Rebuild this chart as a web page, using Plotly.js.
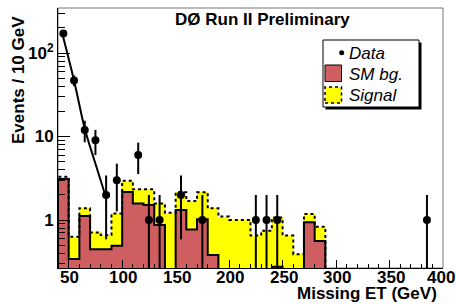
<!DOCTYPE html>
<html>
<head>
<meta charset="utf-8">
<script src="https://cdn.plot.ly/plotly-3.0.1.min.js"></script>
<style>html,body{margin:0;padding:0;background:#fff;}#chart{width:456px;height:304px;}</style>
</head>
<body>
<div id="chart"></div>
<script>
// ---- data ----
var binCenters = [45,55,65,75,85,95,105,115,125,135,145,155,165,175,185,195,205,215,225,235,245,255,265,275,285];
var binEdges   = [40,50,60,70,80,90,100,110,120,130,140,150,160,170,180,190,200,210,220,230,240,250,260,270,280,290];
var smBg       = [3.1,0.34,1.12,0.445,0.445,0.49,2.16,1.58,1.51,0.87,0,1.32,0.77,1.02,0.38,0,0,0,0,0,0.276,0,0,0.94,0.56];
var signal     = [0.2,0.29,0.26,0.265,0.215,0.71,0.8,0.75,0.82,0.71,1.22,0.83,0.92,1.13,1.0,1.1,1.0,1.0,0.65,0.745,0.794,0.65,0.39,0.24,0.27];
var dataX      = [45,55,65,75,85,95,115,125,135,155,175,225,235,245,385];
var dataY      = [172,47,12,9,2,3,6,1,1,2,1,1,1,1,1];
var fitX       = [44,55,65,74,85];
var fitY       = [172,47,12.5,5.2,1.85];
var xTickVals  = [50,100,150,200,250,300,350,400];
var xTickText  = ['50','100','150','200','250','300','350','400'];
var yTickVals  = [1,10,100];
var yTickText  = ['1','10','10<sup>2</sup>'];
var legendLabels = ['Data','SM bg.','Signal'];
var titleText  = 'DØ Run II Preliminary';
var xTitle     = 'Missing ET (GeV)';
var yTitle     = 'Events / 10 GeV';

// ---- derived ----
var total = smBg.map(function(b,i){ return b + signal[i]; });
var FLOOR = 1e-3;
function stepLine(vals){
  var xs = [binEdges[0]], ys = [FLOOR];
  for (var i=0;i<vals.length;i++){ xs.push(binEdges[i]); ys.push(vals[i] > 0 ? vals[i] : FLOOR); }
  var last = vals[vals.length-1] > 0 ? vals[vals.length-1] : FLOOR;
  xs.push(binEdges[binEdges.length-1]); ys.push(last);
  xs.push(binEdges[binEdges.length-1]); ys.push(FLOOR);
  return {x:xs, y:ys};
}
var minorX = []; for (var v=40; v<=400; v+=10) minorX.push(v);
var minorY = [];
[0.1,1,10,100].forEach(function(d){ for (var k=2;k<=9;k++) minorY.push(k*d); });

var RED = '#cf5e61', YEL = '#ffff00';
var FONT = 'Liberation Sans, Arial, Helvetica, sans-serif';

var totLine = stepLine(total), bgLine = stepLine(smBg);
var traces = [
  {type:'bar', x:binCenters, y:total, width:10, marker:{color:YEL, line:{width:0}}, showlegend:false, hoverinfo:'skip'},
  {type:'bar', x:binCenters, y:smBg, width:10, marker:{color:RED, line:{width:0}}, showlegend:false, hoverinfo:'skip'},
  {type:'scatter', mode:'lines', x:totLine.x, y:totLine.y, line:{shape:'hv', color:'#000', width:2, dash:'dot'}, showlegend:false, hoverinfo:'skip'},
  {type:'scatter', mode:'lines', x:bgLine.x, y:bgLine.y, line:{shape:'hv', color:'#000', width:2}, showlegend:false, hoverinfo:'skip'},
  {type:'scatter', mode:'lines', x:fitX, y:fitY, line:{shape:'spline', smoothing:1, color:'#000', width:2}, showlegend:false, hoverinfo:'skip'},
  {type:'scatter', mode:'markers', x:dataX, y:dataY, marker:{color:'#000', size:8},
   error_y:{type:'data', array:dataY.map(function(n){return Math.sqrt(n);}), visible:true, color:'#000', thickness:2, width:0},
   showlegend:false}
];

var L=58, R=13, T=8, B=36, W=456, H=304;
var pw = W-L-R, ph = H-T-B;
function px(x){ return (x-L)/pw; }
function py(y){ return (H-B-y)/ph; }
function rect(x0,y0,x1,y1,fill,line,dash,lw){
  return {type:'rect', xref:'paper', yref:'paper', x0:px(x0), x1:px(x1), y0:py(y1), y1:py(y0),
          fillcolor:fill, line:{color:line||'rgba(0,0,0,0)', width:lw===undefined?1:lw, dash:dash||'solid'}, layer:'above'};
}
var shapes = [
  {type:'rect', xref:'paper', yref:'paper', x0:0, x1:1, y0:0, y1:1, line:{color:'#777', width:1}, layer:'below'},
  rect(325.5,42.5,421.5,109.5,'#000',null,null,0),
  rect(323,40,419,107,'#fff','#000'),
  {type:'circle', xref:'paper', yref:'paper', x0:px(339.2), x1:px(344.2), y0:py(55.2), y1:py(50.2), fillcolor:'#000', line:{width:0}, layer:'above'},
  rect(325,65,341.5,81.5,RED,'#000'),
  rect(325,87,341.5,103,YEL,'#000','dot',1.5)
];
function ann(text,x,y,opts){
  var a = {text:text, xref:'paper', yref:'paper', x:px(x), y:py(y), showarrow:false, xanchor:'left', yanchor:'middle',
           font:{family:FONT, size:17, color:'#000'}};
  for (var k in opts) a[k]=opts[k];
  return a;
}
var annotations = [
  ann(legendLabels[0],347,53,{font:{family:FONT,size:17,color:'#000',style:'italic'}}),
  ann(legendLabels[1],347,74,{font:{family:FONT,size:17,color:'#000',style:'italic'}}),
  ann(legendLabels[2],347,95,{font:{family:FONT,size:17,color:'#000',style:'italic'}}),
  ann(titleText,262,20,{xanchor:'center',font:{family:FONT,size:17,color:'#000',weight:'bold'}}),
  ann(xTitle,438,304,{xanchor:'right',yanchor:'bottom',borderpad:0,font:{family:FONT,size:17,color:'#000',weight:'bold'}}),
  ann(yTitle,18,80,{xanchor:'center',textangle:-90,font:{family:FONT,size:17,color:'#000',weight:'bold'}})
];
// x tick labels placed through the x axis scale
xTickVals.forEach(function(v,i){
  annotations.push({text:xTickText[i], xref:'x', x:v, yref:'paper', y:py(277.5), showarrow:false,
    xanchor:'center', yanchor:'middle', borderpad:0, xshift:(i===xTickVals.length-1?-2:1),
    font:{family:FONT, size:17, color:'#000', weight:'bold'}});
});

var layout = {
  width:W, height:H, margin:{l:L,r:R,t:T,b:B,pad:0},
  paper_bgcolor:'#fff', plot_bgcolor:'#fff',
  barmode:'overlay', bargap:0, showlegend:false,
  font:{family:FONT, color:'#000'},
  xaxis:{range:[40,400], tickmode:'array', tickvals:xTickVals, ticks:'inside', ticklen:8, tickwidth:1, tickcolor:'#000',
         showticklabels:false,
         minor:{tickmode:'array', tickvals:minorX, ticks:'inside', ticklen:4, tickwidth:1, tickcolor:'#000', showgrid:false},
         showline:true, linecolor:'#000', linewidth:1, showgrid:false, zeroline:false},
  yaxis:{type:'log', range:[-0.575,2.54], tickmode:'array', tickvals:yTickVals, ticktext:yTickText, ticks:'inside', ticklen:12, tickwidth:1, tickcolor:'#000',
         minor:{tickmode:'array', tickvals:minorY, ticks:'inside', ticklen:7, tickwidth:1, tickcolor:'#000', showgrid:false},
         showline:true, linecolor:'#000', linewidth:1, showgrid:false, zeroline:false,
         tickfont:{family:FONT, size:17, color:'#000', weight:'bold'}},
  shapes:shapes, annotations:annotations
};
Plotly.newPlot('chart', traces, layout, {staticPlot:true, displayModeBar:false});
</script>
</body>
</html>
